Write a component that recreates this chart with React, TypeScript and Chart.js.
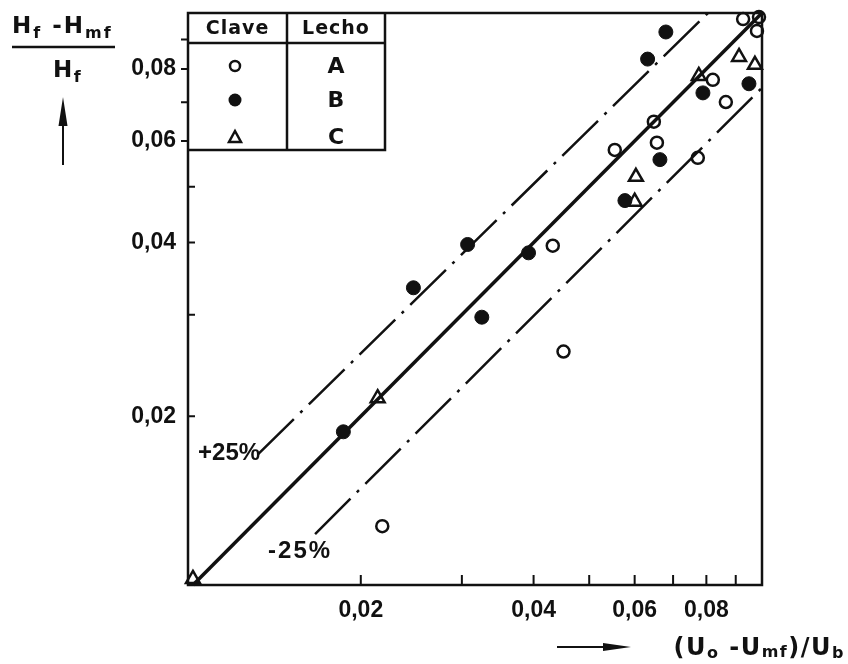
import React, { useEffect, useRef } from "react";
import { Chart, registerables } from "chart.js";

Chart.register(...registerables);

// Axis ranges (log scales)
const xMin = 0.01;
const xMax = 0.1;
const yMin = 0.0102;
const yMax = 0.1;
const tickValues = [0.02, 0.03, 0.04, 0.05, 0.06, 0.07, 0.08, 0.09];
const labeledTicks = [0.02, 0.04, 0.06, 0.08];

// Lecho A (open circles)
const bedAx = [0.0927, 0.0988, 0.098, 0.0821, 0.0865, 0.0648, 0.0656, 0.0554, 0.0773, 0.0432, 0.0451, 0.0218];
const bedAy = [0.0976, 0.0984, 0.0931, 0.0766, 0.0701, 0.0648, 0.0596, 0.0579, 0.0561, 0.0395, 0.0259, 0.0129];
// Lecho B (filled circles)
const bedBx = [0.068, 0.0632, 0.0949, 0.0789, 0.0664, 0.0577, 0.0392, 0.0307, 0.0247, 0.0325, 0.01865];
const bedBy = [0.0927, 0.0832, 0.0754, 0.0727, 0.0557, 0.0473, 0.0384, 0.0397, 0.0334, 0.0297, 0.0188];
// Lecho C (open triangles)
const bedCx = [0.0102, 0.0214, 0.0603, 0.06, 0.0776, 0.0912, 0.0972];
const bedCy = [0.01045, 0.0215, 0.052, 0.0471, 0.0778, 0.0839, 0.0813];

// Reference lines
const lineX = [0.0102, 0.1];
const lineY = [0.0102, 0.1];
const plusX = [0.01325, 0.0805];
const plusY = [0.0172, 0.1];
const minusX = [0.01665, 0.1];
const minusY = [0.0125, 0.0742];

const legendKeys = ["Clave", "Lecho"];
const legendLabels = ["A", "B", "C"];

const INK = "#111";
const TICK_FONT = '"Liberation Sans", Arial, sans-serif';
const TITLE_FONT = '"DejaVu Sans", sans-serif';

const zip = (xs: number[], ys: number[]) => xs.map((x, i) => ({ x, y: ys[i] }));

type Seg = [string, number, number];
function drawRich(ctx: CanvasRenderingContext2D, segs: Seg[], x: number, baseline: number, align: "left" | "right" | "center", spacing = 0) {
  let total = 0;
  const widths: number[] = [];
  for (const s of segs) {
    ctx.font = `bold ${s[1]}px ${TITLE_FONT}`;
    const w = ctx.measureText(s[0]).width + spacing * s[0].length;
    widths.push(w);
    total += w;
  }
  let cx = align === "right" ? x - total : align === "center" ? x - total / 2 : x;
  ctx.textAlign = "left";
  ctx.textBaseline = "alphabetic";
  segs.forEach((s, i) => {
    ctx.font = `bold ${s[1]}px ${TITLE_FONT}`;
    let px = cx;
    for (const ch of s[0]) {
      ctx.fillText(ch, px, baseline + s[2]);
      px += ctx.measureText(ch).width + spacing;
    }
    cx += widths[i];
  });
}

const decorPlugin = {
  id: "decor",
  afterDraw(chart: any) {
    const ctx: CanvasRenderingContext2D = chart.ctx;
    const xs = chart.scales.x;
    const ys = chart.scales.y;
    const { left, right, top, bottom } = chart.chartArea;
    ctx.save();
    ctx.strokeStyle = INK;
    ctx.fillStyle = INK;

    // Frame
    ctx.lineWidth = 2.5;
    ctx.strokeRect(left, top, right - left, bottom - top);

    // Tick marks
    ctx.lineWidth = 2;
    ctx.beginPath();
    for (const v of tickValues) {
      const px = xs.getPixelForValue(v);
      ctx.moveTo(px, bottom);
      ctx.lineTo(px, bottom - 10);
      const py = ys.getPixelForValue(v);
      if (v >= 0.06) {
        ctx.moveTo(left, py);
        ctx.lineTo(left - 7, py);
      } else {
        ctx.moveTo(left, py);
        ctx.lineTo(left + 7, py);
      }
    }
    ctx.stroke();

    // Legend table
    const tR = 385, tB = top + 137, hB = top + 30, colX = 287;
    ctx.lineWidth = 2.5;
    ctx.beginPath();
    ctx.moveTo(left, tB); ctx.lineTo(tR, tB); ctx.lineTo(tR, top);
    ctx.moveTo(left, hB); ctx.lineTo(tR, hB);
    ctx.moveTo(colX, top); ctx.lineTo(colX, tB);
    ctx.stroke();
    ctx.textAlign = "center";
    ctx.textBaseline = "middle";
    ctx.font = `bold 19px ${TITLE_FONT}`;
    (ctx as any).letterSpacing = "1px";
    ctx.fillText(legendKeys[0], (left + colX) / 2, top + 16);
    ctx.fillText(legendKeys[1], (colX + tR) / 2, top + 16);
    (ctx as any).letterSpacing = "0px";
    ctx.font = `bold 22px ${TITLE_FONT}`;
    const rowsY = [top + 53, top + 87, top + 124];
    legendLabels.forEach((l, i) => ctx.fillText(l, (colX + tR) / 2, rowsY[i] + 1));
    const mx = 235;
    ctx.lineWidth = 2.5;
    ctx.beginPath(); ctx.arc(mx, rowsY[0], 5, 0, Math.PI * 2); ctx.stroke();
    ctx.beginPath(); ctx.arc(mx, rowsY[1], 6.5, 0, Math.PI * 2); ctx.fill();
    ctx.beginPath();
    ctx.moveTo(mx, rowsY[2] - 6); ctx.lineTo(mx + 6, rowsY[2] + 5); ctx.lineTo(mx - 6, rowsY[2] + 5); ctx.closePath();
    ctx.stroke();

    // +25% / -25% labels
    ctx.textBaseline = "middle";
    ctx.font = `bold 24px ${TICK_FONT}`;
    const pxs = xs.getPixelForValue(plusX[0]);
    const pys = ys.getPixelForValue(plusY[0]);
    ctx.textAlign = "right";
    ctx.fillText("+25%", pxs + 2, pys - 1);
    const mxs = xs.getPixelForValue(minusX[0]);
    const mys = ys.getPixelForValue(minusY[0]);
    ctx.textAlign = "center";
    (ctx as any).letterSpacing = "2px";
    ctx.fillText("-25%", mxs - 15, mys + 17);
    (ctx as any).letterSpacing = "0px";

    // Y axis title (fraction) with arrow
    drawRich(ctx, [["H", 23, 0], ["f", 16, 5], [" -", 23, 0], ["H", 23, 0], ["mf", 16, 5]], 12, 33, "left", 2);
    ctx.lineWidth = 2.5;
    ctx.beginPath(); ctx.moveTo(12, 47); ctx.lineTo(115, 47); ctx.stroke();
    drawRich(ctx, [["H", 23, 0], ["f", 16, 5]], 53, 77, "left", 1.5);
    ctx.lineWidth = 2;
    ctx.beginPath(); ctx.moveTo(63, 165); ctx.lineTo(63, 118); ctx.stroke();
    ctx.beginPath(); ctx.moveTo(63, 97); ctx.lineTo(67.5, 126); ctx.lineTo(58.5, 126); ctx.closePath(); ctx.fill();

    // X axis title with arrow
    ctx.lineWidth = 2;
    ctx.beginPath(); ctx.moveTo(557, 647); ctx.lineTo(608, 647); ctx.stroke();
    ctx.beginPath(); ctx.moveTo(631, 647); ctx.lineTo(603, 643); ctx.lineTo(603, 651); ctx.closePath(); ctx.fill();
    drawRich(ctx, [["(U", 24, 0], ["o", 16, 3], [" -U", 24, 0], ["mf", 16, 2], [")/U", 24, 0], ["b", 16, 3]], 845, 655, "right", 1.5);

    ctx.restore();
  },
};

export default function App() {
  const ref = useRef<HTMLCanvasElement>(null);

  useEffect(() => {
    if (!ref.current) return;
    const lineDs = (xs: number[], ys: number[], width: number, dash: number[]) => ({
      type: "scatter" as const,
      data: zip(xs, ys),
      showLine: true,
      borderColor: INK,
      borderWidth: width,
      borderDash: dash,
      pointRadius: 0,
      fill: false,
      clip: false as any,
    });
    const chart = new Chart(ref.current, {
      type: "scatter",
      data: {
        datasets: [
          lineDs(lineX, lineY, 3.5, []),
          lineDs(plusX, plusY, 2.5, [50, 9, 3, 9]),
          lineDs(minusX, minusY, 2.5, [50, 9, 3, 9]),
          {
            label: "A",
            data: zip(bedAx, bedAy),
            pointStyle: "circle",
            pointRadius: 6,
            pointBackgroundColor: "#fff",
            pointBorderColor: INK,
            pointBorderWidth: 2.5,
            clip: false as any,
          },
          {
            label: "B",
            data: zip(bedBx, bedBy),
            pointStyle: "circle",
            pointRadius: 7,
            pointBackgroundColor: INK,
            pointBorderColor: INK,
            pointBorderWidth: 1,
            clip: false as any,
          },
          {
            label: "C",
            data: zip(bedCx, bedCy),
            pointStyle: "triangle",
            pointRadius: 8,
            pointBackgroundColor: "#fff",
            pointBorderColor: INK,
            pointBorderWidth: 2.5,
            clip: false as any,
          },
        ],
      },
      options: {
        responsive: false,
        animation: false,
        layout: { padding: { top: 13, right: 86, left: 0, bottom: 0 } },
        plugins: { legend: { display: false }, tooltip: { enabled: false }, title: { display: false } },
        scales: {
          x: {
            type: "logarithmic",
            min: xMin,
            max: xMax,
            grid: { display: false, drawTicks: false },
            border: { display: false },
            afterBuildTicks: (s: any) => { s.ticks = labeledTicks.map((v) => ({ value: v })); },
            afterFit: (s: any) => { s.height = 79; s.paddingLeft = 0; s.paddingRight = 0; },
            ticks: {
              autoSkip: false,
              maxRotation: 0,
              padding: 12,
              color: INK,
              font: { family: TICK_FONT, size: 23, weight: "bold" },
              callback: (v: any) => (labeledTicks.includes(Number(v)) ? Number(v).toFixed(2).replace(".", ",") : ""),
            },
          },
          y: {
            type: "logarithmic",
            min: yMin,
            max: yMax,
            grid: { display: false, drawTicks: false },
            border: { display: false },
            afterBuildTicks: (s: any) => { s.ticks = labeledTicks.map((v) => ({ value: v })); },
            afterFit: (s: any) => { s.width = 188; s.paddingTop = 0; s.paddingBottom = 0; },
            ticks: {
              autoSkip: false,
              padding: 12,
              color: INK,
              font: { family: TICK_FONT, size: 23, weight: "bold" },
              callback: (v: any) => (labeledTicks.includes(Number(v)) ? Number(v).toFixed(2).replace(".", ",") : ""),
            },
          },
        },
      },
      plugins: [decorPlugin],
    });
    return () => chart.destroy();
  }, []);

  return (
    <div style={{ position: "absolute", left: 0, top: 0, width: 848, height: 664, background: "#fff" }}>
      <canvas ref={ref} width={848} height={664} />
    </div>
  );
}
